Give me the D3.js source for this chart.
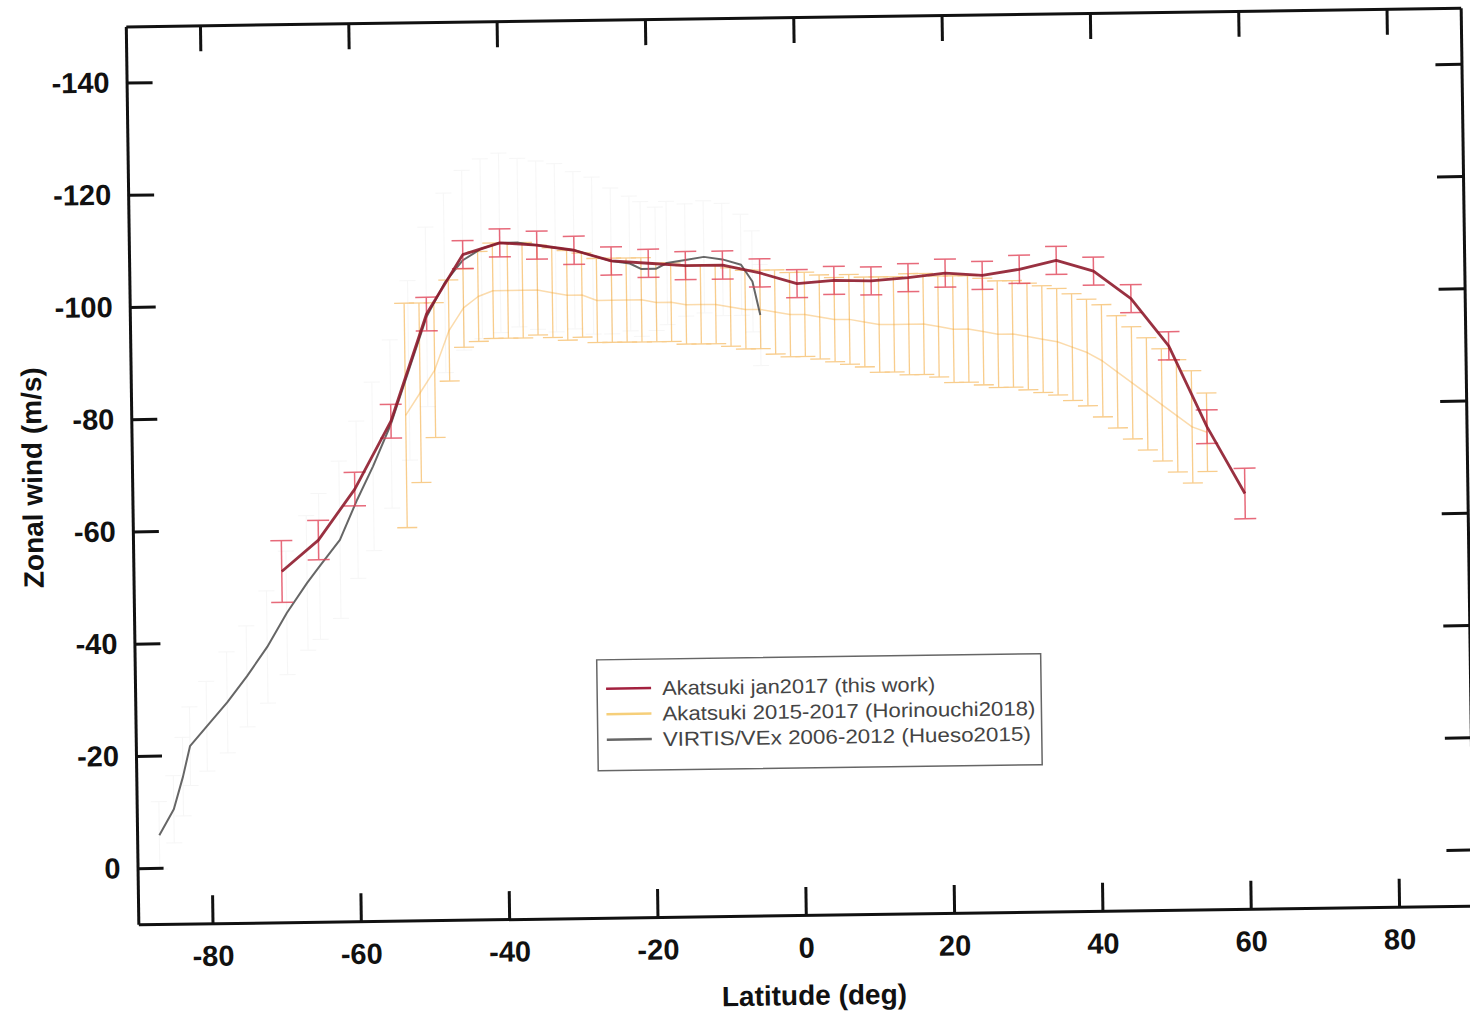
<!DOCTYPE html>
<html>
<head>
<meta charset="utf-8">
<script src="https://cdn.jsdelivr.net/npm/d3@7"></script>
<style>
  body { margin: 0; background: #fff; }
  svg { display: block; }
  .axis path, .axis line { stroke: #111; stroke-width: 3; }
  .axis text { font-family: "Liberation Sans", Arial, sans-serif; font-weight: bold; font-size: 29px; fill: #111; }
  .title { font-family: "Liberation Sans", Arial, sans-serif; font-weight: bold; font-size: 28px; fill: #111; }
  .legend text { font-family: "Liberation Sans", Arial, sans-serif; font-size: 20px; fill: #444; }
</style>
</head>
<body>
<svg id="chart" width="1470" height="1013"></svg>
<script>
// ticks
const xTicks = [-80, -60, -40, -20, 0, 20, 40, 60, 80];
const yTicks = [-140, -120, -100, -80, -60, -40, -20, 0];

// Akatsuki jan2017 (this work)
const redLat = [-70, -65, -60, -55, -50, -45, -40, -35, -30, -25, -20, -15, -10, -5, 0, 5, 10, 15, 20, 25, 30, 35, 40, 45, 50, 55, 60];
const redWind = [-52.5, -58, -67, -79, -98, -108.5, -110.5, -110, -109, -107, -106.5, -106, -106, -104.5, -102.5, -103, -102.8, -103.3, -104, -103.5, -104.5, -106, -104, -99, -90.5, -76, -64];
const redErr = [5.5, 3.5, 3, 3, 3, 2.5, 2.5, 2.5, 2.5, 2.5, 2.5, 2.5, 2.5, 2.5, 2.5, 2.5, 2.5, 2.5, 2.5, 2.5, 2.5, 2.5, 2.5, 2.5, 2.5, 3, 4.5];

// Akatsuki 2015-2017 (Horinouchi2018)
const oraLat = [-53, -51, -49, -47, -45, -43, -41, -39, -37, -35, -33, -31, -29, -27, -25, -23, -21, -19, -17, -15, -13, -11, -9, -7, -5, -3, -1,
  1, 3, 5, 7, 9, 11, 13, 15, 17, 19, 21, 23, 25, 27, 29, 31, 33, 35, 37, 39, 41, 43, 45, 47, 49, 51, 53, 55];
const oraWind = [-80, -84, -88, -95, -99, -101, -102, -102, -102, -102, -101.5, -101, -101, -100, -100, -100, -100, -99.5, -99.5, -99, -99, -99, -98.5, -98, -98, -97.5, -97,
  -97, -96.5, -96, -96, -95.5, -95, -95, -95, -95, -94.5, -94, -94, -93.5, -93, -93, -92.5, -92, -91.5, -90.5, -89.5, -88, -86, -84, -82, -80, -78, -76, -75];
const oraErr = [20, 16, 12, 9, 7, 8, 8.5, 8.5, 8.5, 8, 8, 8, 7.5, 7.5, 7.5, 7.5, 7.5, 7, 7, 7, 7, 7, 7, 7, 7, 7.5, 7.5,
  7.5, 7.5, 7.5, 8, 8, 8.5, 8.5, 9, 9, 9, 9.5, 9.5, 9.5, 9.5, 9.5, 9.5, 9.5, 9.5, 9.5, 9.5, 10, 10, 10, 10, 10, 10, 10, 7];

// VIRTIS/VEx 2006-2012 (Hueso2015)
const virLat = [-87, -85, -83.7, -82.7, -80.4, -77.6, -74.9, -72.1, -69.4, -66.6, -64.9, -62.1, -59.7, -57.5, -55, -52.5, -50, -47.5, -45, -42.5, -40,
  -37.5, -35, -32.5, -30, -27.5, -25, -22.5, -21, -19, -17.5, -15, -12.5, -10, -7.5, -6, -5];
const virWind = [-5.8, -10.4, -16.2, -21.6, -25.1, -29.3, -33.9, -39.1, -45.1, -50.4, -53.3, -58, -65.1, -71, -78.5, -88, -97.5, -103.5, -107.5, -109.5, -110.5,
  -110.5, -110, -109.5, -109, -108, -107, -106.5, -105.5, -105.5, -106.5, -107, -107.5, -107, -106, -103, -97];
const virErr = [6, 6, 7, 7, 8, 9, 9, 10, 11, 12, 13, 14, 14, 15, 15, 16, 16, 16, 16, 16, 16,
  15, 15, 15, 14, 14, 13, 12, 12, 11, 11, 10, 10, 10, 9, 9, 9];

const legendLabels = ["Akatsuki jan2017 (this work)", "Akatsuki 2015-2017 (Horinouchi2018)", "VIRTIS/VEx 2006-2012 (Hueso2015)"];
const legendWidths = [273, 373, 368];
const legendColors = ["#a3213f", "#f6cf7a", "#666"];

const svg = d3.select("#chart");
// the scanned figure is slightly tilted
const g = svg.append("g").attr("transform", "rotate(-0.8,801,466)");

const x = d3.scaleLinear().domain([-90, 90]).range([132, 1467]);
const y = d3.scaleLinear().domain([-150, 10]).range([17, 915]);

function errorBars(lat, val, err, color, cap, width, opacity) {
  const eb = g.append("g").attr("stroke", color).attr("stroke-width", width).attr("opacity", opacity).attr("fill", "none");
  lat.forEach((d, i) => {
    const xx = x(d), y1 = y(val[i] - err[i]), y2 = y(val[i] + err[i]);
    eb.append("line").attr("x1", xx).attr("x2", xx).attr("y1", y1).attr("y2", y2);
    eb.append("line").attr("x1", xx - cap).attr("x2", xx + cap).attr("y1", y1).attr("y2", y1);
    eb.append("line").attr("x1", xx - cap).attr("x2", xx + cap).attr("y1", y2).attr("y2", y2);
  });
}

function drawLine(lat, val, color, width, opacity) {
  const line = d3.line().x(i => x(lat[i])).y(i => y(val[i]));
  g.append("path").attr("d", line(d3.range(lat.length)))
    .attr("fill", "none").attr("stroke", color).attr("stroke-width", width)
    .attr("stroke-linejoin", "round").attr("opacity", opacity);
}

// faint VIRTIS error bars
errorBars(virLat, virWind, virErr, "#c8c8c8", 8, 1, 0.15);
// Horinouchi error bars + mean
errorBars(oraLat, oraWind, oraErr, "#f4a530", 10, 1.3, 0.55);
drawLine(oraLat, oraWind, "#f4a530", 1.5, 0.4);
// VIRTIS line
drawLine(virLat, virWind, "#555", 2, 0.9);
// this work
errorBars(redLat, redWind, redErr, "#e2455a", 11, 1.5, 0.8);
drawLine(redLat, redWind, "#8e1b2c", 2.8, 0.9);

// axes
const fmt = d => String(d);
g.append("g").attr("class", "axis").attr("transform", "translate(0,915)")
  .call(d3.axisBottom(x).tickValues(xTicks).tickFormat(fmt).tickSizeInner(-28).tickSizeOuter(0).tickPadding(22));
g.append("g").attr("class", "axis").attr("transform", "translate(0,17)")
  .call(d3.axisTop(x).tickValues(xTicks).tickFormat("").tickSizeInner(-26).tickSizeOuter(0));
g.append("g").attr("class", "axis").attr("transform", "translate(132,0)")
  .call(d3.axisLeft(y).tickValues(yTicks).tickFormat(fmt).tickSizeInner(-26).tickSizeOuter(0).tickPadding(17));
g.append("g").attr("class", "axis").attr("transform", "translate(1467,0)")
  .call(d3.axisRight(y).tickValues(yTicks).tickFormat("").tickSizeInner(-26).tickSizeOuter(0));

// axis titles
g.append("text").attr("class", "title").attr("x", 807).attr("y", 1005)
  .attr("text-anchor", "middle").text("Latitude (deg)");
g.append("text").attr("class", "title").attr("transform", "translate(42,467) rotate(-90)")
  .attr("text-anchor", "middle").text("Zonal wind (m/s)");

// legend
const lg = g.append("g").attr("class", "legend");
lg.append("rect").attr("x", 594).attr("y", 657).attr("width", 444).attr("height", 111)
  .attr("fill", "#fff").attr("stroke", "#666").attr("stroke-width", 1.5);
legendLabels.forEach((t, i) => {
  const yy = 686 + i * 25.5;
  lg.append("line").attr("x1", 603).attr("x2", 648).attr("y1", yy).attr("y2", yy)
    .attr("stroke", legendColors[i]).attr("stroke-width", 2.5);
  lg.append("text").attr("x", 659).attr("y", yy + 7)
    .attr("textLength", legendWidths[i]).attr("lengthAdjust", "spacingAndGlyphs").text(t);
});
</script>
</body>
</html>
